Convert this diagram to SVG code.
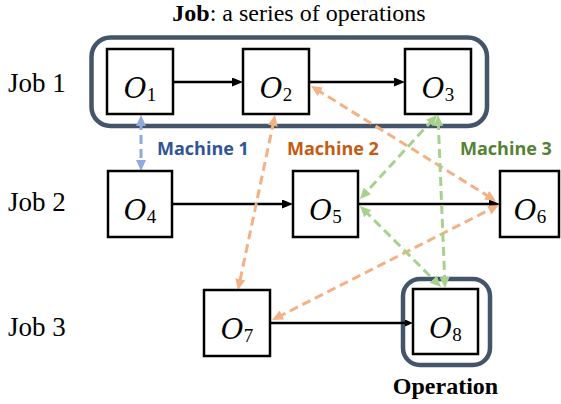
<svg xmlns="http://www.w3.org/2000/svg" width="561" height="404" viewBox="0 0 561 404">
<style>
.box{fill:#fff;stroke:#000;stroke-width:2.5}
.hl{fill:none;stroke:#44546a;stroke-width:4.5}
.op{font-family:"DejaVu Serif","Liberation Serif",serif;font-size:28px;fill:#000}
.op .v{font-style:italic}
.op .s{font-size:19px;font-family:"Liberation Serif",serif}
.job{font-family:"Liberation Serif",serif;font-size:27px;fill:#000}
.cap{font-family:"Liberation Serif",serif;font-size:24px;fill:#000}
.mach{font-family:"Open Sans","Liberation Sans",sans-serif;font-size:18px;font-weight:bold}
.seq{stroke:#000;stroke-width:2.7;fill:none}
.dash{stroke-width:3;stroke-dasharray:9 5;fill:none}
.o{stroke:#f4b183}
.g{stroke:#a9d18e}
.b{stroke:#8faadc}
</style>
<defs>
<marker id="ab" markerUnits="userSpaceOnUse" markerWidth="11" markerHeight="9" refX="6" refY="4.5" orient="auto"><path d="M0,0 L11,4.5 L0,9 z" fill="#000"/></marker>
<marker id="abs" markerUnits="userSpaceOnUse" markerWidth="8" markerHeight="7" refX="4" refY="3.5" orient="auto"><path d="M0,0 L8,3.5 L0,7 z" fill="#000"/></marker>
<marker id="ao" markerUnits="userSpaceOnUse" markerWidth="11" markerHeight="10" refX="5" refY="5" orient="auto-start-reverse"><path d="M0,0 L11,5 L0,10 z" fill="#f4b183"/></marker>
<marker id="ag" markerUnits="userSpaceOnUse" markerWidth="11" markerHeight="10" refX="5" refY="5" orient="auto-start-reverse"><path d="M0,0 L11,5 L0,10 z" fill="#a9d18e"/></marker>
<marker id="abl" markerUnits="userSpaceOnUse" markerWidth="11" markerHeight="10" refX="5" refY="5" orient="auto-start-reverse"><path d="M0,0 L11,5 L0,10 z" fill="#8faadc"/></marker>
</defs>

<text class="cap" x="299" y="21" text-anchor="middle"><tspan font-weight="bold">Job</tspan>: a series of operations</text>

<g id="job1-highlight"><rect class="hl" x="91.5" y="37.5" width="395.5" height="88.5" rx="19"/></g>
<g id="operation-highlight"><rect class="hl" x="403" y="279" width="87" height="86" rx="17"/></g>

<g id="row-labels">
<text class="job" x="8" y="92">Job 1</text>
<text class="job" x="8" y="211">Job 2</text>
<text class="job" x="8" y="336">Job 3</text>
</g>

<g id="machine-labels">
<text class="mach" x="157" y="155" fill="#2f5597">Machine 1</text>
<text class="mach" x="287" y="155" fill="#c55a11">Machine 2</text>
<text class="mach" x="460" y="155" fill="#548235">Machine 3</text>
</g>

<g id="connectors">
<line class="seq" x1="173" y1="82" x2="238" y2="82" marker-end="url(#ab)"/>
<line class="seq" x1="309" y1="82" x2="400" y2="82" marker-end="url(#ab)"/>
<line class="seq" x1="172" y1="204" x2="288" y2="204" marker-end="url(#ab)"/>
<line class="seq" x1="358" y1="204" x2="495" y2="204" marker-end="url(#ab)"/>
<line class="seq" x1="270" y1="323" x2="409" y2="323" stroke-width="2" marker-end="url(#abs)"/>

<line class="dash b" x1="141" y1="121" x2="141" y2="165" marker-start="url(#abl)" marker-end="url(#abl)"/>
<line class="dash o" x1="273.8" y1="120.9" x2="239.2" y2="284.1" marker-start="url(#ao)" marker-end="url(#ao)"/>
<line class="dash o" x1="316.1" y1="89.2" x2="490.9" y2="197.8" marker-start="url(#ao)" marker-end="url(#ao)"/>
<line class="dash o" x1="277.4" y1="317.3" x2="493.6" y2="207.7" marker-start="url(#ao)" marker-end="url(#ao)"/>
<line class="dash g" x1="433" y1="119.4" x2="364" y2="194.6" marker-start="url(#ag)" marker-end="url(#ag)"/>
<line class="dash g" x1="364.2" y1="210.2" x2="436.8" y2="282.8" marker-start="url(#ag)" marker-end="url(#ag)"/>
<line class="dash g" x1="438.2" y1="121" x2="444.8" y2="282" marker-start="url(#ag)" marker-end="url(#ag)"/>
</g>

<g id="O1"><rect class="box" x="107" y="49" width="66" height="65"/><text class="op" x="140" y="98" text-anchor="middle"><tspan class="v">O</tspan><tspan class="s" dy="3">1</tspan></text></g>
<g id="O2"><rect class="box" x="243" y="49" width="66" height="65"/><text class="op" x="276" y="98" text-anchor="middle"><tspan class="v">O</tspan><tspan class="s" dy="3">2</tspan></text></g>
<g id="O3"><rect class="box" x="405" y="49" width="66" height="65"/><text class="op" x="438" y="98" text-anchor="middle"><tspan class="v">O</tspan><tspan class="s" dy="3">3</tspan></text></g>
<g id="O4"><rect class="box" x="108" y="171" width="64" height="66"/><text class="op" x="140" y="220" text-anchor="middle"><tspan class="v">O</tspan><tspan class="s" dy="3">4</tspan></text></g>
<g id="O5"><rect class="box" x="293" y="171" width="65" height="66"/><text class="op" x="325.5" y="220" text-anchor="middle"><tspan class="v">O</tspan><tspan class="s" dy="3">5</tspan></text></g>
<g id="O6"><rect class="box" x="500" y="171" width="59" height="66"/><text class="op" x="530" y="220" text-anchor="middle"><tspan class="v">O</tspan><tspan class="s" dy="3">6</tspan></text></g>
<g id="O7"><rect class="box" x="204" y="290" width="66" height="66"/><text class="op" x="237" y="339" text-anchor="middle"><tspan class="v">O</tspan><tspan class="s" dy="3">7</tspan></text></g>
<g id="O8"><rect class="box" x="413" y="289" width="65" height="65"/><text class="op" x="445.5" y="338" text-anchor="middle"><tspan class="v">O</tspan><tspan class="s" dy="3">8</tspan></text></g>

<text class="cap" x="445.5" y="394" text-anchor="middle" font-weight="bold">Operation</text>
</svg>
